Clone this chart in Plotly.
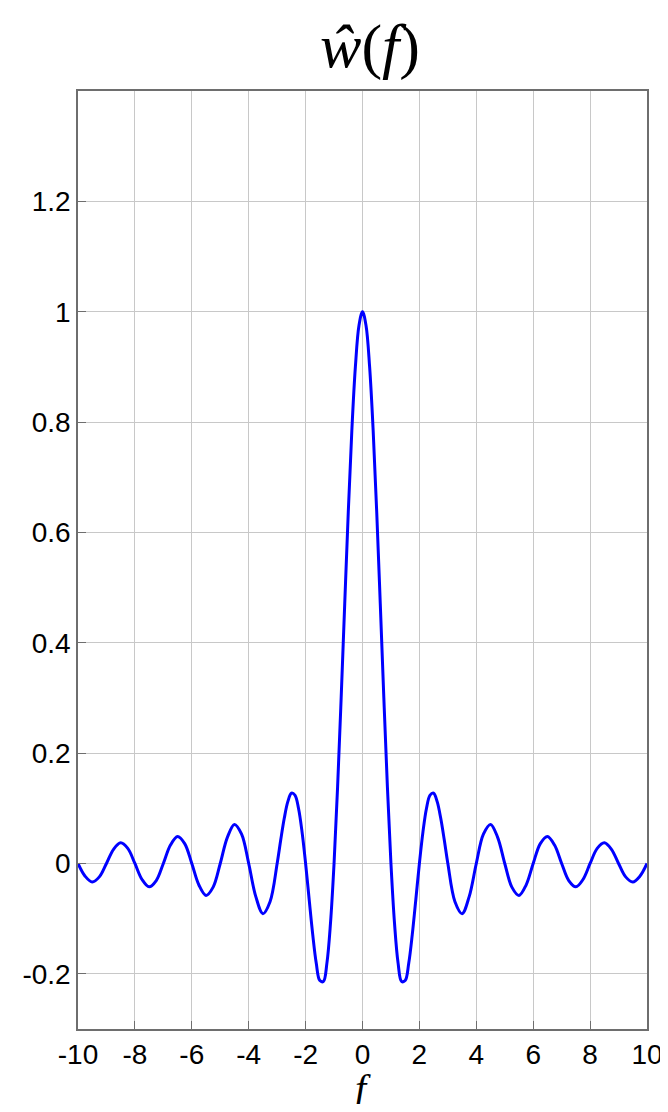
import plotly.graph_objects as go

# frequency samples and read-off values of w-hat(f)
f_vals = [
    -10, -9.75, -9.5, -9.25, -9, -8.75, -8.5, -8.25, -8, -7.75, -7.5, -7.25,
    -7, -6.75, -6.5, -6.25, -6, -5.75, -5.5, -5.25, -5, -4.75, -4.5, -4.25,
    -4, -3.75, -3.5, -3.25,
    -3, -2.875, -2.75, -2.625, -2.5, -2.375, -2.25, -2.125, -2, -1.875, -1.75,
    -1.625, -1.5, -1.375, -1.25, -1.125, -1, -0.875, -0.75, -0.625, -0.5,
    -0.375, -0.25, -0.125, 0, 0.125, 0.25, 0.375, 0.5, 0.625, 0.75, 0.875, 1,
    1.125, 1.25, 1.375, 1.5, 1.625, 1.75, 1.875, 2, 2.125, 2.25, 2.375, 2.5,
    2.625, 2.75, 2.875, 3,
    3.25, 3.5, 3.75, 4, 4.25, 4.5, 4.75, 5, 5.25, 5.5, 5.75, 6, 6.25, 6.5,
    6.75, 7, 7.25, 7.5, 7.75, 8, 8.25, 8.5, 8.75, 9, 9.25, 9.5, 9.75, 10,
]
w_vals = [
    0.0, -0.0231, -0.0335, -0.0243, 0.0, 0.0257, 0.0374, 0.0273, 0.0, -0.0290,
    -0.0424, -0.0310, 0.0, 0.0333, 0.0490, 0.0360, 0.0, -0.0391, -0.0579,
    -0.0429, 0.0, 0.0474, 0.0707, 0.0530, 0.0, -0.0600, -0.0909, -0.0693,
    0.0, 0.0424, 0.0818, 0.1120, 0.1273, 0.1238, 0.1000, 0.0573, 0.0, -0.0650,
    -0.1286, -0.1810, -0.2122, -0.2139, -0.1801, -0.1083, 0.0, 0.1392, 0.3001,
    0.4705, 0.6366, 0.7842, 0.9003, 0.9745, 1.0, 0.9745, 0.9003, 0.7842,
    0.6366, 0.4705, 0.3001, 0.1392, 0.0, -0.1083, -0.1801, -0.2139, -0.2122,
    -0.1810, -0.1286, -0.0650, 0.0, 0.0573, 0.1000, 0.1238, 0.1273, 0.1120,
    0.0818, 0.0424, 0.0,
    -0.0693, -0.0909, -0.0600, 0.0, 0.0530, 0.0707, 0.0474, 0.0, -0.0429,
    -0.0579, -0.0391, 0.0, 0.0360, 0.0490, 0.0333, 0.0, -0.0310, -0.0424,
    -0.0290, 0.0, 0.0273, 0.0374, 0.0257, 0.0, -0.0243, -0.0335, -0.0231, 0.0,
]
x_ticks = [-10, -8, -6, -4, -2, 0, 2, 4, 6, 8, 10]
x_tick_labels = ["-10", "-8", "-6", "-4", "-2", "0", "2", "4", "6", "8", "10"]
y_ticks = [-0.2, 0, 0.2, 0.4, 0.6, 0.8, 1, 1.2]
y_tick_labels = ["-0.2", "0", "0.2", "0.4", "0.6", "0.8", "1", "1.2"]

fig = go.Figure()
fig.add_trace(go.Scatter(
    x=f_vals, y=w_vals, mode="lines",
    line=dict(color="#0000ff", width=3, shape="spline", smoothing=1.0),
    showlegend=False,
))

axis_common = dict(
    showgrid=True, gridcolor="#c8c8c8", gridwidth=1,
    showline=True, linecolor="#6e6e6e", linewidth=1.5, mirror=True,
    ticks="inside", ticklen=8, tickcolor="#6e6e6e",
    tickfont=dict(family="Liberation Sans, Arial, sans-serif", size=28, color="black"),
    zeroline=False, automargin=False, ticklabeloverflow="allow",
)

# page body has an 8px default margin, so the figure is sized to fit the window
W, H = 660, 1096
PLOT_H = H - 83 - 75
fig.update_layout(
    width=W, height=H,
    paper_bgcolor="white", plot_bgcolor="white",
    margin=dict(l=70, r=21, t=83, b=75),
    title=dict(
        text="<i>ŵ</i>(<i>f</i>)",
        x=(370 - 8) / W, xanchor="center", y=1 - (45 - 8) / H, yanchor="middle",
        font=dict(family="Liberation Serif, DejaVu Serif, serif", size=62, color="black"),
    ),
    xaxis=dict(
        range=[-10, 10], tickvals=x_ticks, ticktext=x_tick_labels,
        **axis_common,
    ),
    yaxis=dict(
        range=[-0.3, 1.4], tickvals=y_ticks, ticktext=y_tick_labels,
        **axis_common,
    ),
    annotations=[dict(
        text="<i>f</i>", xref="paper", yref="paper",
        x=0.5, y=-(1088 - 1029) / PLOT_H, xanchor="center", yanchor="middle",
        showarrow=False,
        font=dict(family="Liberation Serif, DejaVu Serif, serif", size=40, color="black"),
    )],
)

fig.write_html("out.html")
